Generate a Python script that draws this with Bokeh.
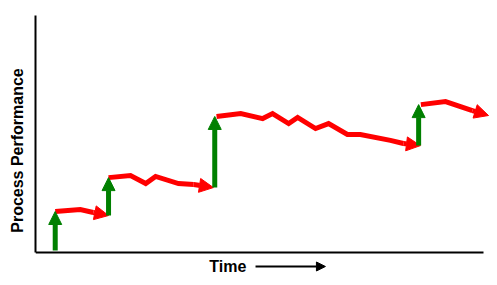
from bokeh.plotting import figure
from bokeh.models import Range1d, Arrow, NormalHead, Label, ColumnDataSource, FixedTicker
from bokeh.embed import file_html
from bokeh.resources import INLINE

# ---- data (time 0-100, performance 0-100) ----
# red drift segments (each ends with an arrowhead)
seg1_t = [4.4, 10.0, 12.9, 16.3]
seg1_p = [17.3, 18.1, 16.9, 15.6]
seg2_t = [16.3, 21.2, 24.6, 26.8, 31.9, 35.3, 39.7]
seg2_p = [31.6, 32.5, 29.1, 32.1, 29.1, 28.7, 27.4]
seg3_t = [40.4, 45.8, 50.7, 52.9, 56.5, 58.5, 62.5, 65.4, 69.6, 72.5, 79.2, 82.1, 85.9]
seg3_p = [57.4, 58.6, 56.5, 58.6, 54.4, 57.0, 52.3, 54.4, 49.8, 49.8, 47.3, 46.0, 45.1]
seg4_t = [86.0, 91.5, 97.5, 101.1]
seg4_p = [62.4, 63.7, 59.9, 57.8]

# green improvement steps
step_t = [4.4, 16.3, 40.0, 85.5]
step_from = [0.8, 15.6, 27.4, 45.1]
step_to = [17.3, 31.6, 57.4, 62.4]

RED = "#FF0000"
GREEN = "#008000"
FONT = "Liberation Sans"

p = figure(width=497, height=285, output_backend="svg", toolbar_location=None,
           x_range=Range1d(0, 103.1), y_range=Range1d(-13.92, 100),
           min_border_left=35, min_border_right=0, min_border_top=15, min_border_bottom=0,
           background_fill_color="white", border_fill_color="white")
p.outline_line_color = None
p.grid.visible = False

for ax in (p.xaxis[0], p.yaxis[0]):
    ax.ticker = FixedTicker(ticks=[])
    ax.major_tick_line_color = None
    ax.minor_tick_line_color = None
    ax.major_label_standoff = 0
    ax.major_tick_out = 0
    ax.major_tick_in = 0
    ax.minor_tick_out = 0
    ax.minor_tick_in = 0
    ax.axis_line_width = 2
    ax.axis_line_color = "black"
p.xaxis.bounds = (0, 100)
p.yaxis.bounds = (0, 100)
p.xaxis.fixed_location = 0
p.yaxis.axis_label = "Process Performance"
p.yaxis.axis_label_text_font = FONT
p.yaxis.axis_label_text_font_style = "bold"
p.yaxis.axis_label_text_font_size = "16px"
p.yaxis.axis_label_text_color = "black"
p.yaxis.axis_label_standoff = 10

# red drift segments
for ts, ps in [(seg1_t, seg1_p), (seg2_t, seg2_p), (seg3_t, seg3_p), (seg4_t, seg4_p)]:
    p.line(ts[:-1], ps[:-1], line_color=RED, line_width=5, line_join="miter")
    p.add_layout(Arrow(end=NormalHead(size=14, fill_color=RED, line_color=RED, line_width=1),
                       x_start=ts[-2], y_start=ps[-2], x_end=ts[-1], y_end=ps[-1],
                       line_color=RED, line_width=5))

# green steps
src = ColumnDataSource(dict(x=step_t, y0=step_from, y1=step_to))
p.add_layout(Arrow(end=NormalHead(size=13, fill_color=GREEN, line_color=GREEN, line_width=1),
                   x_start="x", y_start="y0", x_end="x", y_end="y1", source=src,
                   line_color=GREEN, line_width=5))

# Time label with arrow
p.add_layout(Label(x=38.8, y=-5.9, text="Time", text_font=FONT, text_font_style="bold",
                   text_font_size="16px", text_baseline="middle", text_align="left",
                   text_color="black"))
p.add_layout(Arrow(end=NormalHead(size=9, fill_color="black", line_color="black", line_width=1),
                   x_start=49.1, y_start=-5.9, x_end=64.7, y_end=-5.9,
                   line_color="black", line_width=2))

open("out.html", "w").write(file_html(p, INLINE))
